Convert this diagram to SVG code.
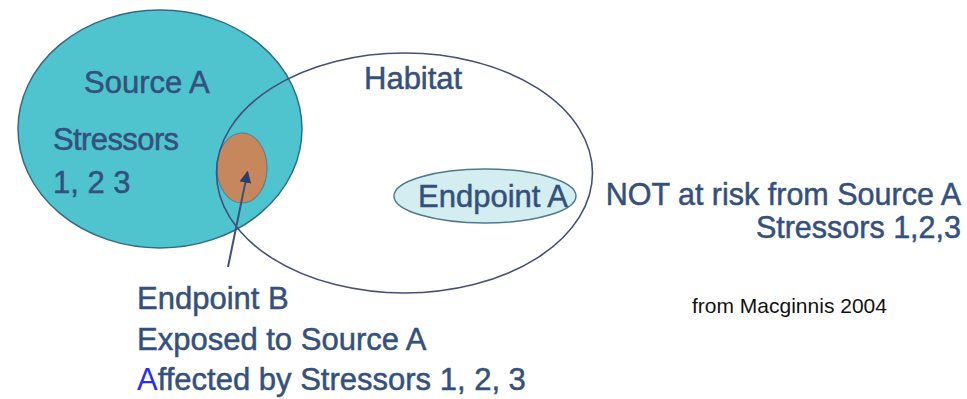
<svg xmlns="http://www.w3.org/2000/svg" width="967" height="399" viewBox="0 0 967 399">
  <style>
    text { font-family: "Liberation Sans", Arial, sans-serif; font-size: 31px; fill: #34507c; stroke: #34507c; stroke-width: 0.5; }
    .src { fill: #4fc4cf; stroke: #336b84; stroke-width: 1.5; }
    .hab { fill: none; stroke: #45507a; stroke-width: 1.6; }
    .eb { fill: #c5875b; stroke: #5f8090; stroke-width: 1.2; }
    .ea { fill: #d3edf1; stroke: #4d7a8e; stroke-width: 1.5; }
    .conn { stroke: #3d5278; stroke-width: 2; fill: none; }
    .cite { font-size: 21px; fill: #111111; stroke: none; }
    .hl { fill: #2a2aff; stroke: none; }
    .tight { letter-spacing: -0.6px; }
    .risk { font-size: 30.5px; }
  </style>
  <defs>
    <marker id="arrow" viewBox="0 0 10 10" refX="9" refY="5" markerWidth="6" markerHeight="6" orient="auto" markerUnits="strokeWidth">
      <path d="M0,0 L10,5 L0,10 z" fill="#2c3f6a"/>
    </marker>
  </defs>

  <rect width="967" height="399" fill="#ffffff"/>

  <g id="source-a">
    <ellipse class="src" cx="160" cy="129" rx="142" ry="119"/>
    <text x="84" y="93">Source A</text>
    <text class="tight" x="53" y="150">Stressors</text>
    <text x="53" y="193">1, 2 3</text>
  </g>

  <g id="endpoint-b">
    <ellipse class="eb" cx="242" cy="168" rx="25" ry="35"/>
  </g>

  <g id="habitat">
    <ellipse class="hab" cx="404.5" cy="173" rx="188" ry="120"/>
    <text x="364" y="89">Habitat</text>
  </g>

  <g id="endpoint-a">
    <ellipse class="ea" cx="485" cy="196" rx="91" ry="27"/>
    <text x="418" y="207">Endpoint A</text>
  </g>

  <g id="connectors">
    <line class="conn" x1="228" y1="267" x2="247.5" y2="172" marker-end="url(#arrow)"/>
  </g>

  <g id="label-not-at-risk">
    <text class="risk" x="961" y="205" text-anchor="end">NOT at risk from Source A</text>
    <text class="risk" x="961" y="238" text-anchor="end">Stressors 1,2,3</text>
  </g>

  <g id="label-endpoint-b">
    <text x="137" y="309">Endpoint B</text>
    <text x="137" y="350">Exposed to Source A</text>
    <text x="137" y="390"><tspan class="hl">A</tspan>ffected by Stressors 1, 2, 3</text>
  </g>

  <g id="citation">
    <text class="cite" x="692" y="313">from Macginnis 2004</text>
  </g>
</svg>
